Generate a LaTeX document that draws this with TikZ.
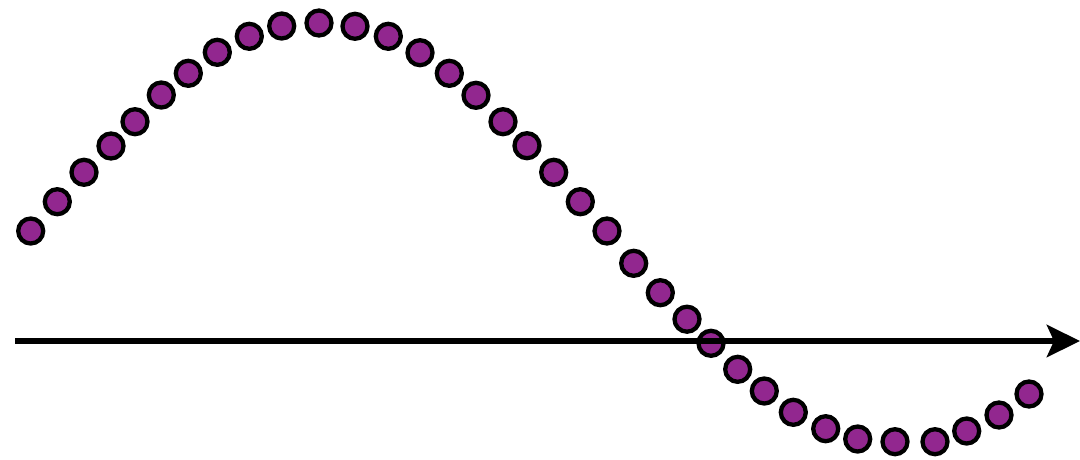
\documentclass[tikz,border=0pt]{standalone}
\usetikzlibrary{arrows.meta}
\definecolor{dotpurple}{HTML}{92278F}
\tikzset{
  bead/.style={circle, draw=black, fill=dotpurple, line width=4.3pt, minimum size=25pt, inner sep=0pt},
  axisline/.style={line width=6.5pt, -{Stealth[length=33pt, width=32pt, inset=7pt]}}
}
\begin{document}
\begin{tikzpicture}[x=1pt, y=-1pt]
\useasboundingbox (0,0) rectangle (1080,459);
\foreach \px/\py [count=\i] in {
 30.7/231, 57.3/201.7, 84/172.3, 111/146, 135/121.7, 161.3/95, 188.3/73.3, 217.3/52.3, 249.3/36.3, 281.7/26,
 319/23, 355/26.3, 388.3/36.3, 420/52.7, 449.3/73.3, 476/95.3, 503/121.7, 527/145.7, 553.7/172.3, 580.3/201.7,
 607/231, 633.7/263.3, 660.3/292.7, 687/319.2, 711/343.3, 737.7/369.3, 764.3/391, 793.3/412.3, 825.7/428.7, 857.7/439,
 895/441.7, 935/441.7, 966.7/431, 999/415, 1029/394}
  \node[bead] (d\i) at (\px,\py) {};
\coordinate (axstart) at (15,341);
\coordinate (axend) at (1080,341);
\draw[axisline] (axstart) -- (axend);
\end{tikzpicture}
\end{document}
